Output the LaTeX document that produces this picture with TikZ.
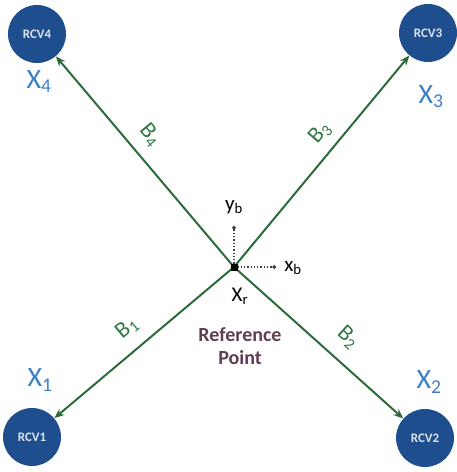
\documentclass[tikz,border=0pt]{standalone}
\usepackage{fontspec}
\setmainfont{Carlito}
\usetikzlibrary{arrows.meta}
\definecolor{rcvblue}{HTML}{1F4E8F}
\definecolor{lblblue}{HTML}{3B7FC9}
\definecolor{lngreen}{HTML}{2B6B3A}
\definecolor{bgreen}{HTML}{2E7A42}
\definecolor{refpurple}{HTML}{5E3E52}
\newcommand{\sbs}[1]{\textsubscript{#1}}
\tikzset{
  rcv/.style={circle, fill=rcvblue, draw=none, minimum size=58pt, inner sep=0pt,
    text=white!85!rcvblue, font=\fontsize{13}{14}\selectfont\bfseries},
  xlbl/.style={text=lblblue, font=\fontsize{28}{30}\selectfont, inner sep=0pt},
  blbl/.style={text=bgreen, font=\fontsize{23}{24}\selectfont, inner sep=0pt},
  beam/.style={draw=lngreen, line width=2pt, -{Stealth[length=10pt,width=8pt]}},
  axis/.style={draw=black!75, line width=1.3pt, dotted, -{Circle[length=3.5pt]}},
  blk/.style={text=black, font=\fontsize{21}{22}\selectfont, inner sep=0pt},
}
\begin{document}
\begin{tikzpicture}[x=1pt,y=-1pt]
\useasboundingbox (0,0) rectangle (457,472);
\node[rcv] (r4) at (37,34) {RCV4};
\node[rcv] (r3) at (428,33) {RCV3};
\node[rcv] (r1) at (32,437) {RCV1};
\node[rcv] (r2) at (425,438) {RCV2};
\coordinate (c) at (234,267);
\coordinate (yb) at (234,226);
\coordinate (xb) at (276,267);
\draw[beam] (c) -- (r4);
\draw[beam] (c) -- (r3);
\draw[beam] (c) -- (r1);
\draw[beam] (c) -- (r2);
\draw[axis] (c) -- (yb);
\draw[axis] (c) -- (xb);
\fill[black] (c) ++(-3.5,-3.5) rectangle ++(7,7);
\node[xlbl] (x4) at (39,82) {X\sbs{4}};
\node[xlbl] (x3) at (431,97) {X\sbs{3}};
\node[xlbl] (x1) at (40,380) {X\sbs{1}};
\node[xlbl] (x2) at (429,382) {X\sbs{2}};
\node[blbl, rotate=-50] (b4) at (150,135) {B\sbs{4}};
\node[blbl, rotate=50] (b3) at (320,133) {B\sbs{3}};
\node[blbl, rotate=40] (b1) at (127,328) {B\sbs{1}};
\node[blbl, rotate=-42] (b2) at (348,337) {B\sbs{2}};
\node[blk] (ybl) at (234,207) {y\sbs{b}};
\node[blk] (xbl) at (293,268) {x\sbs{b}};
\node[blk] (xr) at (240,296) {X\sbs{r}};
\node[text=refpurple, font=\fontsize{20}{23}\selectfont\bfseries, align=center] (ref) at (240,346) {Reference\\Point};
\end{tikzpicture}
\end{document}
